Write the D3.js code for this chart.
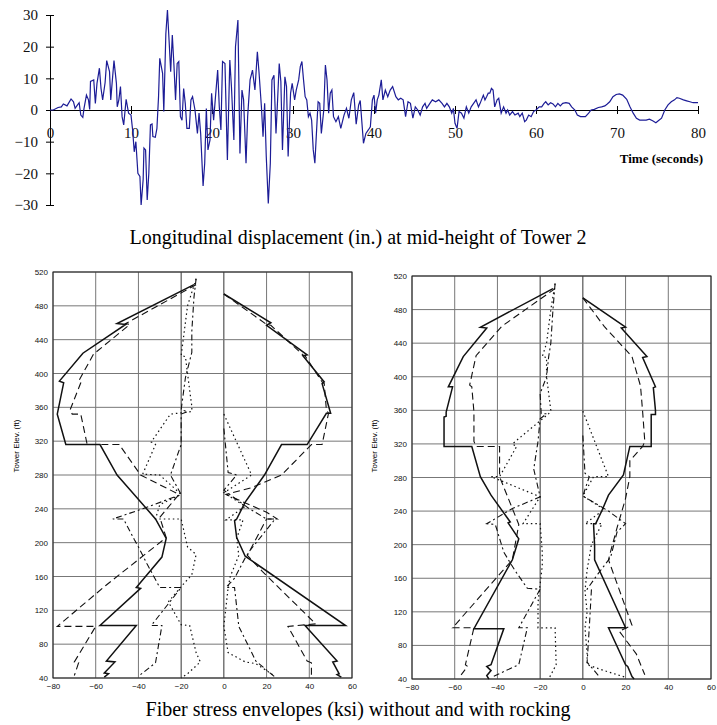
<!DOCTYPE html>
<html>
<head>
<meta charset="utf-8">
<script src="https://cdn.jsdelivr.net/npm/d3@7/dist/d3.min.js"></script>
<style>
  body { margin: 0; background: #fff; }
  svg { display: block; }
</style>
</head>
<body>
<svg id="chart" width="717" height="725"></svg>
<script>
// top chart: displacement history [time (s), displacement (in.)]
const dispTicksY = [30, 20, 10, 0, -10, -20, -30];
const dispTicksX = [0, 10, 20, 30, 40, 50, 60, 70, 80];
const dispPts = [
  [0,0],[0.4,0],[1.0,0.8],[1.4,1],[1.65,1.9],[2.1,1.3],[2.6,3.5],[2.9,2.6],[3.1,0.5],[3.4,1.6],[3.6,2.3],
  [3.8,-1.6],[4.05,-2.3],[4.2,0.5],[4.5,4.7],[4.75,3.2],[4.9,0.2],[5.0,9],[5.4,9.5],[5.6,2.1],[5.8,8.4],
  [6.1,13.2],[6.3,6.8],[6.5,3.2],[6.8,8.6],[7.0,15.6],[7.35,12.1],[7.5,3.2],[7.7,9.5],[7.9,15.6],[8.2,8.4],
  [8.3,1],[8.5,3.2],[8.7,7.4],[8.9,-2.1],[9.1,-4.7],[9.4,3.4],[9.7,-1],[10.0,-1.6],[10.2,-6.3],[10.4,-13.2],
  [10.6,-10],[10.85,-20],[11.1,-21],[11.25,-30],[11.5,-22],[11.6,-12],[11.8,-12.6],[12.0,-28.4],[12.2,-20],
  [12.4,-4.7],[12.6,-4.4],[12.7,-8.4],[13.0,-8.6],[13.2,-5.8],[13.4,4.2],[13.55,16.3],[13.9,11.6],[14.05,-0.5],
  [14.3,24],[14.5,31.6],[14.7,22],[14.9,12.1],[15.1,23.7],[15.3,14.2],[15.5,3.2],[15.7,14.7],[15.9,15.3],
  [16.1,-2.1],[16.3,-3.2],[16.5,6.8],[16.7,2.1],[16.9,-5.8],[17.2,-5.8],[17.4,3.2],[17.6,4.2],[17.9,0],
  [18.2,-7.4],[18.4,-1],[18.6,-7.4],[18.9,-24],[19.1,-16.8],[19.3,0.5],[19.5,-12.6],[19.75,-9.5],[19.95,5.3],
  [20.2,-3.2],[20.4,3.2],[20.7,12.6],[20.9,1],[21.1,-6.3],[21.3,15.3],[21.6,14.7],[21.9,-15.8],[22.2,15.8],
  [22.4,7.4],[22.7,-9.5],[22.9,20],[23.2,28.4],[23.45,-13.7],[23.7,6.3],[23.9,3.2],[24.2,-16.8],[24.4,-2.1],
  [24.7,9.5],[25.0,12.6],[25.3,6.3],[25.6,18.4],[25.8,12.1],[26.1,1],[26.3,-8.4],[26.5,2.1],[26.7,-14.7],
  [26.95,-29.5],[27.2,-16.8],[27.4,9.5],[27.65,11],[27.9,-7.4],[28.1,3.2],[28.3,14.7],[28.5,9],[28.7,-12.6],
  [29.0,10.5],[29.2,7.4],[29.4,-14.7],[29.7,5.3],[29.9,8.4],[30.2,3.2],[30.4,6.3],[30.7,9.5],[30.9,13.7],
  [31.1,15.3],[31.3,9.5],[31.5,4.2],[31.7,3.2],[31.9,-2.1],[32.1,-1],[32.3,-3.2],[32.5,-12.6],[32.7,-16.8],
  [33.0,-2.1],[33.1,2.6],[33.3,2.1],[33.5,-7.4],[33.8,0],[34.0,14.2],[34.2,9.5],[34.4,-1],[34.6,5.3],
  [34.8,6.3],[35.0,-2.1],[35.3,-3.7],[35.6,-2.1],[35.9,-5.8],[36.3,-1.6],[36.6,0.5],[36.9,-2.6],[37.2,3.2],
  [37.5,5.5],[37.8,-4.5],[38.1,1.5],[38.3,3],[38.7,-10.5],[39.0,-7.4],[39.3,-6.3],[39.55,-5.3],[39.8,3.2],
  [40.0,4.7],[40.2,-1],[40.4,3.2],[40.6,4.7],[40.9,9.5],[41.1,3.2],[41.4,6.3],[41.7,4.2],[42.0,6.3],
  [42.3,7.4],[42.7,4.2],[43.0,3.2],[43.3,3.7],[43.6,3.2],[43.9,-2.1],[44.2,2.6],[44.5,2.1],[44.8,-2.6],
  [45.1,1],[45.4,0],[45.7,-1.6],[46.0,1],[46.3,2.1],[46.5,0.5],[46.9,2.1],[47.2,3.2],[47.6,2.6],[48.0,3.2],
  [48.4,2.1],[48.7,1],[49.0,2.1],[49.3,1],[49.6,-1],[49.8,0.5],[50.0,-4.2],[50.25,-5.8],[50.5,-0.5],
  [50.8,-1],[51.1,-2.6],[51.4,1],[51.7,-1],[52.0,1],[52.3,2.1],[52.6,3.2],[52.9,1],[53.1,2.1],[53.5,4.7],
  [53.7,3.2],[53.9,4.2],[54.1,5.3],[54.3,5.3],[54.5,6.8],[54.7,6.3],[54.9,1],[55.2,3.2],[55.4,3.7],
  [55.7,-1],[56.0,1],[56.3,-1],[56.5,0],[56.75,-1.6],[57.1,-0.5],[57.4,-1.6],[57.8,-1],[58.0,-2.1],
  [58.3,-1],[58.6,-3.7],[58.8,-3.2],[59.1,-1.6],[59.4,-2.1],[59.7,-0.5],[60.0,0],[60.4,1],[60.7,1],
  [61.0,2.1],[61.2,2.6],[61.5,1.6],[61.8,2.3],[62.1,1.9],[62.4,1],[62.7,2.1],[63.0,1.3],[63.3,2.1],
  [63.7,2.3],[64.1,2.1],[64.4,1],[64.8,0],[65.1,-1.6],[65.5,-2.1],[65.8,-2.1],[66.1,-2.1],[66.5,-1],
  [66.8,0],[67.2,0.2],[67.7,0.8],[68.1,1],[68.5,1.3],[68.8,1.9],[69.1,2.6],[69.5,4.2],[69.9,4.9],
  [70.3,5.1],[70.7,4.7],[71.2,3.4],[71.6,1],[72.0,-1],[72.4,-2.6],[72.8,-3.2],[73.2,-3.2],[73.6,-3.2],
  [74.0,-2.9],[74.4,-3.4],[74.8,-4],[75.1,-3.4],[75.5,-2.6],[75.9,0],[76.3,1.6],[76.7,2.6],[77.1,3.2],
  [77.4,3.9],[77.7,3.7],[78.2,3.2],[78.6,2.9],[79.0,2.6],[79.4,2.3],[80,2.3]
];

// bottom charts: stress envelopes [stress (ksi), tower elevation (ft)]
const stressTicks = [-80, -60, -40, -20, 0, 20, 40, 60];
const elevTicks = [40, 80, 120, 160, 200, 240, 280, 320, 360, 400, 440, 480, 520];

// without rocking
const noRockSolidMin = [[-14,505],[-50,459],[-46,458],[-66,424],[-77,391],[-75,389],[-78,352],[-74,316],[-58,316],[-50,280],[-42,257],[-32,228],[-27,205],[-29,183],[-41,147],[-39,146],[-58,102],[-41,102],[-55,60],[-51,59],[-56,46],[-54,45],[-56,41]];
const noRockSolidMax = [[0,494],[22,460],[20,457],[39,422],[37,421],[47,390],[46,388],[50,353],[48,353],[39,316],[27,316],[19,280],[10,248],[6,228],[5,226],[6,206],[10,184],[57,102],[38,102],[53,60],[51,59],[54,45],[53,44],[55,41]];
const noRockDashMin = [[-13,505],[-46,459],[-44,458],[-60,425],[-61,423],[-68,391],[-67,389],[-72,357],[-71,352],[-67,352],[-64,316],[-49,316],[-39,280],[-21,257],[-30,230],[-27,206],[-55,150],[-78,101],[-60,101],[-70,59],[-68,58],[-70,43]];
const noRockDashMax = [[0,494],[20,458],[22,457],[37,422],[38,421],[46,390],[47,388],[48,357],[49,353],[46,316],[41,316],[27,280],[13,265],[1,257],[20,236],[25,228],[20,228],[11,185],[18,166],[43,104],[30,101],[39,60],[41,58],[41,42]];
const noRockDashDotMin = [[-13,512],[-14,490],[-15,450],[-15,425],[-18,395],[-20,357],[-17,355],[-20,352],[-20,316],[-25,280],[-20,257],[-38,240],[-52,228],[-47,228],[-42,204],[-40,195],[-36,175],[-30,147],[-20,147],[-34,102],[-29,102],[-32,58],[-40,42]];
const noRockDotMin = [[-13,512],[-17,480],[-20,421],[-18,420],[-16,380],[-15,361],[-15,355],[-25,352],[-34,319],[-32,316],[-38,281],[-30,280],[-20,257],[-30,245],[-32,228],[-20,228],[-17,195],[-13,186],[-15,162],[-20,148],[-26,130],[-20,103],[-16,102],[-13,70],[-11,59],[-17,45],[-20,40]];
const noRockDashDotMax = [[0,335],[2,283],[6,280],[0,262],[12,240],[20,228],[24,228],[12,190],[10,182],[5,158],[1,147],[5,147],[7,101],[15,60],[24,41]];
const noRockDotMax = [[0,352],[13,280],[0,259],[10,243],[1,227],[9,227],[6,205],[7,185],[3,160],[2,147],[0,101],[2,70],[10,59],[15,57],[24,42]];

// with rocking
const rockSolidMin = [[-14,505],[-48,459],[-45,458],[-56,424],[-63,388],[-61,388],[-64,358],[-64,353],[-65,352],[-65,317],[-52,317],[-48,281],[-43,259],[-34,227],[-35,226],[-30,207],[-33,182],[-51,100],[-37,100],[-43,57],[-45,55],[-43,50],[-45,44],[-44,40]];
const rockSolidMax = [[0,494],[20,459],[18,458],[30,424],[28,423],[34,388],[33,387],[34,360],[34,355],[32,355],[32,317],[22,317],[19,283],[12,259],[9,241],[6,225],[5,225],[5.5,199],[5.5,182],[20,101],[12,101],[20,57],[21,55],[23,43],[24,40]];
const rockDashMin = [[-13,505],[-38,460],[-50,425],[-53,390],[-52,388],[-51,358],[-51,323],[-50,317],[-39,317],[-39,281],[-30,224],[-33,182],[-61,101],[-51,101],[-55,57],[-54,55],[-57,45]];
const rockDashMax = [[0,494],[10,460],[23,424],[27,389],[28,358],[29,323],[28,317],[22,300],[22,281],[20,255],[16,220],[13,192],[12,182],[23,104],[17,97],[25,70],[29,45]];
const rockDashDotMin = [[-13,511],[-14,480],[-15,440],[-16,424],[-17,400],[-20,380],[-19.5,356],[-17,356],[-20,350],[-21,323],[-23,290],[-20,257],[-33,243],[-45,225],[-41,224],[-37,191],[-32,170],[-26,148],[-20,147],[-30,101],[-26,101],[-30,57],[-42,43]];
const rockDotMin = [[-13,511],[-15,480],[-17,440],[-19,424],[-17,423],[-17,400],[-15,360],[-16,356],[-33,320],[-31,317],[-39,281],[-43,281],[-20,257],[-28,225],[-20,225],[-19,191],[-19,175],[-21,131],[-21,101],[-13,101],[-12.5,57],[-16,40]];
const rockDashDotMax = [[0,330],[1,285],[3,281],[0,258],[12,240],[20,225],[16,215],[13,185],[7,165],[2,147],[4,146],[3,101],[2,60],[8,42]];
const rockDotMax = [[0,359],[12,281],[5,281],[0,258],[10,242],[1,225],[9,225],[4,200],[2,170],[1,145],[2,120],[1,101],[2,70],[2,57],[10,50],[20,42]];

const lineStyles = {
  solid: { dash: null, width: 1.5 },
  dash: { dash: '7,4', width: 1.1 },
  dashdot: { dash: '6,3,2,3', width: 1.1 },
  dot: { dash: '1.5,3', width: 1.2 }
};

const svg = d3.select('#chart');
const serif = '"Liberation Serif", "Times New Roman", serif';
const sans = '"Liberation Sans", Arial, sans-serif';

// ---------- top chart ----------
const x = d3.scaleLinear().domain([0, 80]).range([50, 698]);
const y = d3.scaleLinear().domain([-30, 30]).range([205, 15]);

const yAxis = d3.axisLeft(y).tickValues(dispTicksY).tickSize(4).tickSizeOuter(0).tickPadding(8);
const gy = svg.append('g').attr('transform', 'translate(50,0)').call(yAxis);
gy.selectAll('.tick line').attr('x1', -4).attr('x2', 4);
gy.selectAll('text').style('font-family', serif).style('font-size', '15px').attr('fill', '#111');

const xAxis = d3.axisBottom(x).tickValues(dispTicksX).tickSize(4).tickSizeOuter(0);
const gx = svg.append('g').attr('transform', `translate(0,${y(0)})`).call(xAxis);
gx.selectAll('.tick line').attr('y1', -4).attr('y2', 4);
gx.selectAll('text').attr('y', 17).style('font-family', serif).style('font-size', '15px').attr('fill', '#111');
gx.select('.domain').attr('stroke-width', 1.2);

svg.append('path')
  .datum(dispPts)
  .attr('fill', 'none')
  .attr('stroke', '#1c1c96')
  .attr('stroke-width', 1.2)
  .attr('d', d3.line().x(d => x(d[0])).y(d => y(d[1])));

svg.append('text')
  .attr('x', 703).attr('y', 163)
  .attr('text-anchor', 'end')
  .style('font-family', serif).style('font-size', '13px').style('font-weight', 'bold')
  .text('Time (seconds)');

svg.append('text')
  .attr('x', 358).attr('y', 244)
  .attr('text-anchor', 'middle')
  .style('font-family', serif).style('font-size', '20px')
  .text('Longitudinal displacement (in.) at mid-height of Tower 2');

// ---------- stress envelope charts ----------
const drawProfile = (left, right, top, bottom, labelX, series) => {
  const sx = d3.scaleLinear().domain([-80, 60]).range([left, right]);
  const sy = d3.scaleLinear().domain([40, 520]).range([bottom, top]);
  const g = svg.append('g');

  g.selectAll('line.vgrid')
    .data(stressTicks)
    .enter()
    .append('line')
    .attr('x1', d => sx(d)).attr('x2', d => sx(d))
    .attr('y1', top).attr('y2', bottom)
    .attr('stroke', d => (d === -20 || d === 0) ? '#333' : '#777')
    .attr('stroke-width', 1);

  g.selectAll('line.hgrid')
    .data(elevTicks)
    .enter()
    .append('line')
    .attr('x1', left).attr('x2', right)
    .attr('y1', d => sy(d)).attr('y2', d => sy(d))
    .attr('stroke', '#777')
    .attr('stroke-width', 1);

  g.append('rect')
    .attr('x', left).attr('y', top)
    .attr('width', right - left).attr('height', bottom - top)
    .attr('fill', 'none').attr('stroke', '#222').attr('stroke-width', 1);

  const ax = g.append('g').attr('transform', `translate(0,${bottom})`)
    .call(d3.axisBottom(sx).tickValues(stressTicks).tickSize(0).tickPadding(5));
  ax.select('.domain').remove();
  ax.selectAll('text').style('font-family', sans).style('font-size', '8px').attr('fill', '#111');

  const ay = g.append('g').attr('transform', `translate(${left},0)`)
    .call(d3.axisLeft(sy).tickValues(elevTicks).tickSize(0).tickPadding(5));
  ay.select('.domain').remove();
  ay.selectAll('text').style('font-family', sans).style('font-size', '8px').attr('fill', '#111');

  g.append('text')
    .attr('transform', `translate(${labelX},446) rotate(-90)`)
    .attr('text-anchor', 'middle')
    .style('font-family', sans).style('font-size', '8px')
    .text('Tower Elev. (ft)');

  const line = d3.line().x(d => sx(d[0])).y(d => sy(d[1]));
  series.forEach(s => {
    const st = lineStyles[s.style];
    g.append('path')
      .datum(s.data)
      .attr('fill', 'none')
      .attr('stroke', '#111')
      .attr('stroke-width', st.width)
      .attr('stroke-dasharray', st.dash)
      .attr('stroke-linejoin', 'miter')
      .attr('d', line);
  });
};

drawProfile(53, 352, 272, 678, 19, [
  { style: 'dot', data: noRockDotMin },
  { style: 'dot', data: noRockDotMax },
  { style: 'dashdot', data: noRockDashDotMin },
  { style: 'dashdot', data: noRockDashDotMax },
  { style: 'dash', data: noRockDashMin },
  { style: 'dash', data: noRockDashMax },
  { style: 'solid', data: noRockSolidMin },
  { style: 'solid', data: noRockSolidMax }
]);

drawProfile(412, 711, 276, 679, 377, [
  { style: 'dot', data: rockDotMin },
  { style: 'dot', data: rockDotMax },
  { style: 'dashdot', data: rockDashDotMin },
  { style: 'dashdot', data: rockDashDotMax },
  { style: 'dash', data: rockDashMin },
  { style: 'dash', data: rockDashMax },
  { style: 'solid', data: rockSolidMin },
  { style: 'solid', data: rockSolidMax }
]);

svg.append('text')
  .attr('x', 358).attr('y', 716)
  .attr('text-anchor', 'middle')
  .style('font-family', serif).style('font-size', '20px')
  .text('Fiber stress envelopes (ksi) without and with rocking');
</script>
</body>
</html>
